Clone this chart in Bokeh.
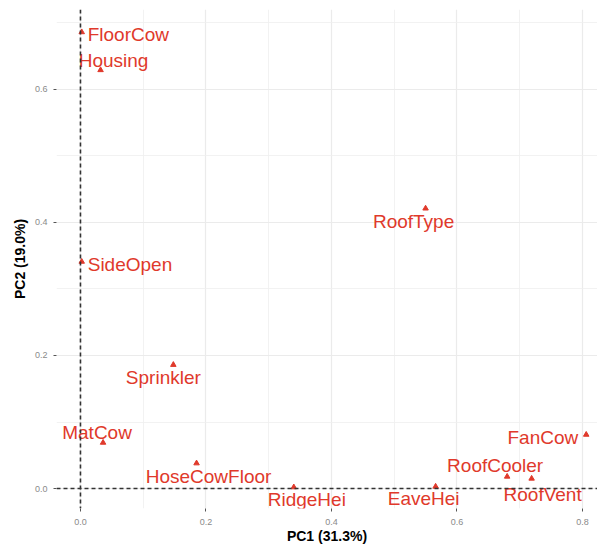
from bokeh.plotting import figure
from bokeh.models import ColumnDataSource, Span, Range1d, FixedTicker, PrintfTickFormatter
from bokeh.embed import file_html
from bokeh.resources import INLINE
from bokeh.core.properties import value

# ---- data ----
variables = ["FloorCow", "Housing", "SideOpen", "RoofType", "Sprinkler", "MatCow",
             "HoseCowFloor", "RidgeHei", "EaveHei", "RoofCooler", "RoofVent", "FanCow"]
pc1 = [0.002, 0.032, 0.002, 0.550, 0.148, 0.036, 0.185, 0.340, 0.566, 0.680, 0.719, 0.806]
pc2 = [0.686, 0.629, 0.341, 0.421, 0.186, 0.069, 0.038, 0.002, 0.003, 0.018, 0.015, 0.081]
x_ticks = [0.0, 0.2, 0.4, 0.6, 0.8]
y_ticks = [0.0, 0.2, 0.4, 0.6]
x_title = "PC1 (31.3%)"
y_title = "PC2 (19.0%)"

# label placement (screen px, repel-like)
lab_align = ["left", "center", "left", "center", "center", "center",
             "center", "center", "center", "center", "center", "right"]
lab_dx = [6, 13, 6, -12, -10, -6, 12, 13, -12, -12, 11, -8]
lab_dy = [2, -10, 3, 13, 13, -10, 13, 12, 12, -11, 16, 3]

src = ColumnDataSource(dict(x=pc1, y=pc2, name=variables, align=lab_align,
                            dx=lab_dx, dy=lab_dy))

RED = "#E0392B"

p = figure(frame_width=541, frame_height=499, output_backend="svg", toolbar_location=None,
           x_range=Range1d(-0.0382, 0.824), y_range=Range1d(-0.030, 0.720),
           min_border_left=56, min_border_right=0, min_border_top=9, min_border_bottom=0)
p.outline_line_color = None
p.background_fill_color = "white"
p.border_fill_color = "white"

for ax, ticks in ((p.xaxis, x_ticks), (p.yaxis, y_ticks)):
    ax.ticker = FixedTicker(ticks=ticks, minor_ticks=[t + 0.1 for t in [-0.2] + ticks])
    ax.formatter = PrintfTickFormatter(format="%.1f")
    ax.axis_line_color = None
    ax.major_tick_in = 0
    ax.major_tick_out = 3
    ax.major_tick_line_color = "#555555"
    ax.minor_tick_line_color = None
    ax.major_label_text_font = "Liberation Sans"
    ax.major_label_text_font_size = "9px"
    ax.major_label_text_color = "#8a8a8a"
    ax.axis_label_text_font = "Liberation Sans"
    ax.axis_label_text_font_size = "14px"
    ax.axis_label_text_font_style = "bold"
    ax.axis_label_text_color = "black"

p.xaxis.axis_label = x_title
p.yaxis.axis_label = y_title
p.xaxis.major_label_standoff = 6
p.xaxis.axis_label_standoff = 0
p.yaxis.major_label_standoff = 5
p.yaxis.axis_label_standoff = 4

for g in (p.xgrid, p.ygrid):
    g.grid_line_color = "#EBEBEB"
    g.grid_line_width = 1.2
    g.minor_grid_line_color = "#EFEFEF"
    g.minor_grid_line_width = 0.8

p.add_layout(Span(location=0, dimension="height", line_color="#333333",
                  line_dash="4 3", line_width=1.6))
p.add_layout(Span(location=0, dimension="width", line_color="#333333",
                  line_dash="4 3", line_width=1.6))

p.scatter("x", "y", source=src, marker="triangle", size=5.5,
          fill_color=RED, line_color=RED)
p.text("x", "y", text="name", source=src, text_align="align",
       text_baseline="middle", x_offset="dx", y_offset="dy",
       text_font=value("Liberation Sans"), text_font_size="19px", text_color=RED)

open("out.html", "w").write(file_html(p, INLINE))
